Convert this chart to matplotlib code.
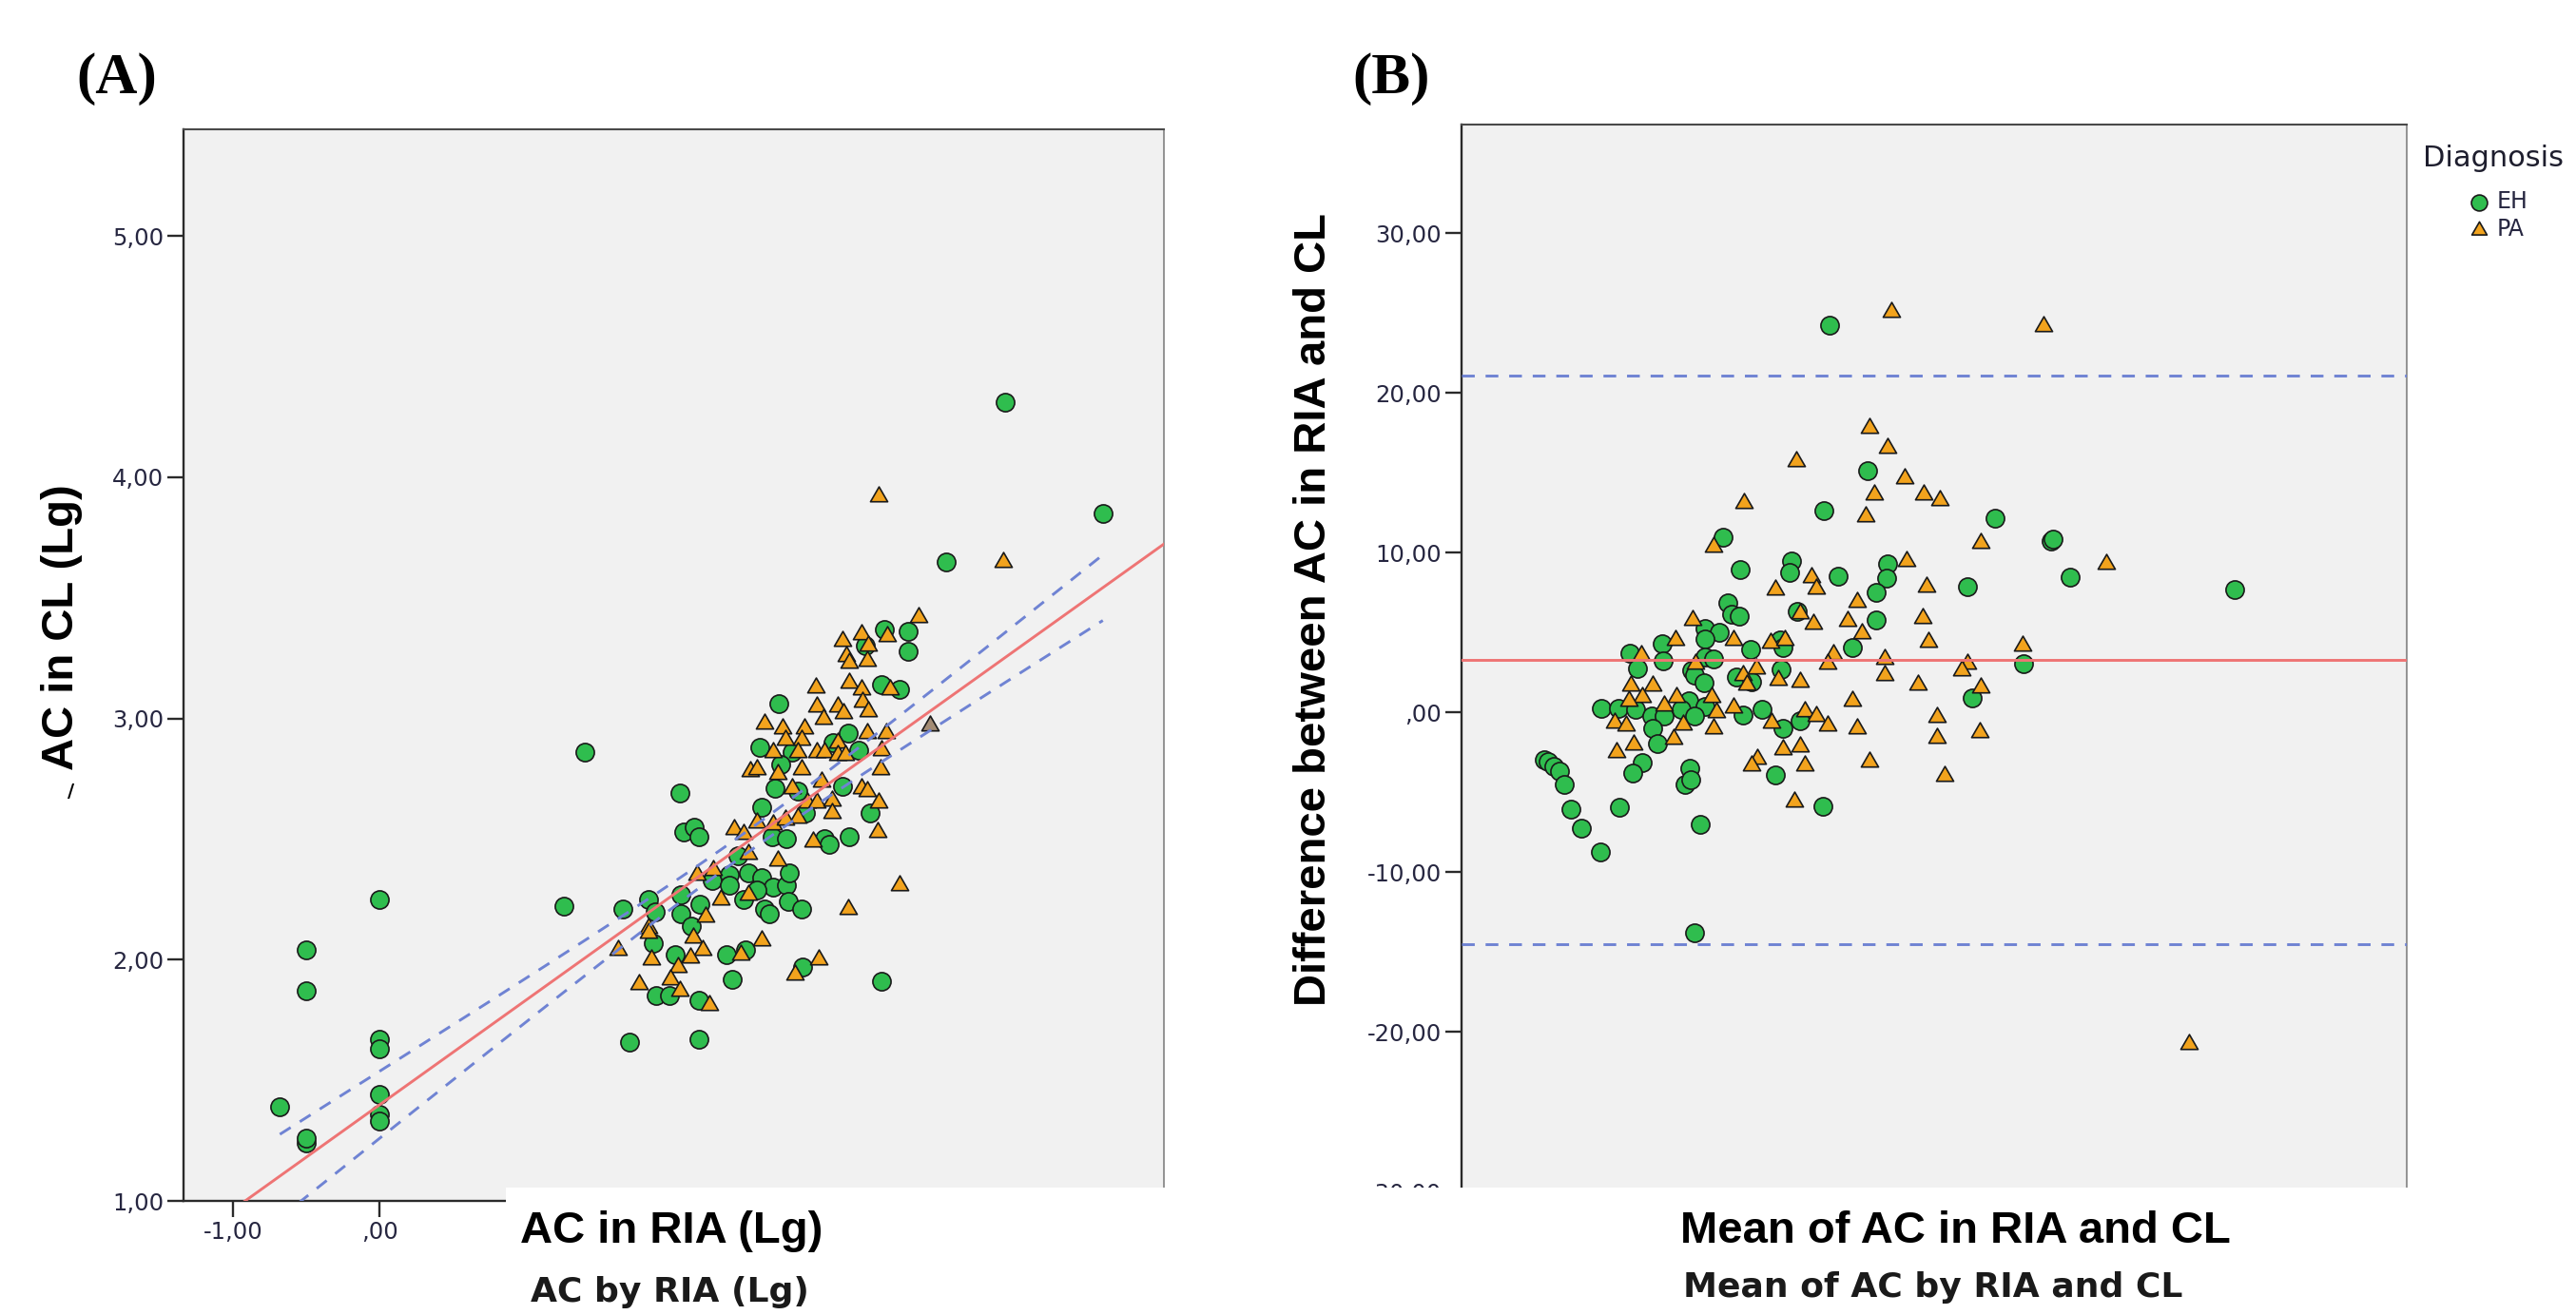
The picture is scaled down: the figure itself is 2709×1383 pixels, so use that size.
import numpy as np
import matplotlib
matplotlib.use("Agg")
import matplotlib.pyplot as plt
from matplotlib.path import Path
from matplotlib.patches import Rectangle

# ---------------- data: panel A (log scale regression) ----------------
a_eh_x = [-0.68, -0.50, -0.50, -0.50, -0.50, 0.00, 0.00, 0.00, 0.00, 0.00, 0.00,
          1.40, 1.26, 4.27, 4.94, 3.87,
          3.45, 3.61, 3.61, 3.32, 3.43, 3.55, 2.73, 3.20, 3.10, 2.60, 2.82, 2.74, 3.27,
          2.05, 2.70, 2.86, 3.16, 2.61, 2.91, 3.35, 2.08, 2.15, 2.18, 2.68, 2.78, 3.04,
          3.07, 3.21,
          1.66, 1.84, 1.88, 2.06, 2.06, 2.19, 2.13, 1.87, 2.02, 2.27, 2.39, 2.39, 2.52,
          2.61, 2.69, 2.78, 2.80, 2.49, 2.58, 2.63, 2.66, 2.79, 2.88, 2.45, 2.37, 2.50,
          2.41, 2.89, 3.43, 1.89, 1.98, 2.18, 1.71, 2.18]
a_eh_y = [1.39, 1.24, 1.26, 2.04, 1.87, 2.25, 1.67, 1.63, 1.44, 1.36, 1.33,
          2.86, 2.22, 4.31, 3.85, 3.65,
          3.37, 3.36, 3.28, 3.30, 3.14, 3.12, 3.06, 2.94, 2.90, 2.88, 2.86, 2.81, 2.87,
          2.69, 2.71, 2.70, 2.72, 2.63, 2.61, 2.61, 2.53, 2.55, 2.51, 2.51, 2.50, 2.50,
          2.48, 2.51,
          2.21, 2.25, 2.20, 2.27, 2.19, 2.23, 2.14, 2.07, 2.02, 2.33, 2.35, 2.31, 2.36,
          2.34, 2.30, 2.31, 2.36, 2.25, 2.29, 2.21, 2.19, 2.24, 2.21, 2.43, 2.02, 2.04,
          1.92, 1.97, 1.91, 1.85, 1.85, 1.83, 1.66, 1.67]

a_pa_x = [3.41, 4.26,
          3.68, 3.16, 3.29, 3.34, 3.19, 3.21, 3.33, 3.47, 2.98, 3.21, 3.29, 3.49, 2.99,
          3.13, 3.17, 3.30, 3.34, 3.03, 2.63, 2.75, 2.90, 2.77, 2.88, 2.69, 2.86, 2.99,
          3.04, 3.13, 3.13, 3.18, 3.33, 3.46, 3.43, 3.42, 2.53, 2.58, 2.72, 2.88, 3.02,
          3.29, 3.33, 2.82, 2.92, 2.99, 3.09, 3.09, 3.41, 2.86, 2.58, 2.42, 2.49, 2.69,
          2.77, 3.40, 2.96,
          2.17, 2.28, 2.52, 2.72, 2.33, 2.52, 2.23, 1.84, 1.84, 1.63, 1.86, 2.14, 2.21,
          2.12, 2.04, 1.99, 1.77, 2.05, 2.25, 2.47, 2.61, 2.84, 3.00, 3.20, 3.55]
a_pa_y = [3.92, 3.65,
          3.42, 3.32, 3.35, 3.30, 3.26, 3.23, 3.24, 3.34, 3.13, 3.15, 3.12, 3.12, 3.05,
          3.05, 3.02, 3.07, 3.03, 3.00, 2.98, 2.96, 2.96, 2.91, 2.91, 2.86, 2.86, 2.86,
          2.86, 2.90, 2.85, 2.85, 2.94, 2.94, 2.87, 2.79, 2.78, 2.79, 2.77, 2.79, 2.74,
          2.71, 2.70, 2.71, 2.65, 2.65, 2.66, 2.61, 2.65, 2.59, 2.57, 2.54, 2.52, 2.56,
          2.58, 2.53, 2.49,
          2.35, 2.37, 2.44, 2.41, 2.25, 2.27, 2.18, 2.13, 2.11, 2.04, 2.00, 2.09, 2.04,
          2.01, 1.97, 1.92, 1.90, 1.87, 1.81, 2.02, 2.08, 1.94, 2.00, 2.21, 2.31]

a_other_x = [3.76]
a_other_y = [2.97]

# fitted regression line and its 95% confidence band
a_fit_intercept = 1.398
a_fit_slope = 0.434
a_ci_center = 2.5
a_ci_min = 0.045
a_ci_slope = 0.0526

a_xticks = [-1, 0, 1, 2, 3, 4, 5]
a_xtick_visible = [-1, 0]          # the rest is hidden under the pasted label
a_yticks = [1, 2, 3, 4, 5]

# ---------------- data: panel B (Bland-Altman) ----------------
b_eh_x = [19.45, 40.9, 12.3, 27.0, 28.23, 31.17, 31.3, 22.54, 22.49, 32.18, 26.78,
          21.95, 21.95, 29.74,
          21.48, 19.18, 13.82, 14.74, 17.45, 17.34, 19.93, 20.69, 14.1, 14.27, 14.7,
          17.76, 12.89, 13.65, 12.89, 10.63, 16.84, 17.0, 15.28, 8.9, 10.68, 12.89,
          13.31, 9.29, 12.19, 16.92, 14.54, 15.32, 12.31, 12.81, 12.02, 12.89, 14.9,
          15.91, 7.39, 8.28, 9.2, 10.04, 10.71, 11.63, 12.31, 10.13, 17.0, 17.92,
          10.38, 9.54, 16.58, 9.04, 12.06,
          4.4, 4.6, 4.9, 5.2, 5.43,
          11.8, 12.1, 5.77, 6.32, 7.33, 8.33, 12.64, 19.1]
b_eh_y = [24.26, 7.71, -13.8, 0.94, 12.17, 10.72, 10.85, 9.33, 8.40, 8.50, 7.90,
          7.51, 5.82, 3.05,
          15.15, 12.63, 10.98, 8.94, 9.49, 8.74, 8.54, 4.04, 6.88, 6.12, 6.02,
          6.32, 5.23, 5.03, 4.63, 4.30, 4.57, 4.04, 3.94, 3.70, 3.24, 3.50,
          3.35, 2.75, 2.65, 2.71, 2.25, 1.92, 2.35, 1.86, 0.76, 0.37, -0.13,
          0.17, 0.27, 0.27, 0.17, -0.23, -0.23, 0.17, -0.23, -1.02, -1.02, -0.52,
          -1.92, -3.11, -3.9, -3.8, -3.5,
          -2.95, -3.1, -3.4, -3.7, -4.49,
          -4.49, -4.2, -6.08, -7.27, -8.72, -5.94, -7.01, -5.88]

b_pa_x = [22.72, 30.8, 38.46, 25.15, 25.15, 25.55, 27.4, 27.48,
          22.54, 23.43, 24.43, 25.30, 27.48, 23.54, 34.1, 24.6, 24.38, 24.71, 29.66,
          22.37, 22.37, 26.78, 26.47, 24.13, 21.58,
          17.72, 21.82, 21.36, 14.94, 13.31, 18.51, 18.76, 16.62, 20.94, 20.44, 21.19,
          19.68, 19.35, 20.69, 20.94, 21.6, 12.22, 17.9, 18.63, 11.30, 14.40, 16.33,
          17.12, 9.51, 12.39, 15.58, 16.75, 17.89, 14.9, 15.07, 8.95, 10.13, 9.54,
          11.38, 13.23, 10.71, 8.87, 13.48, 14.37, 8.11, 8.70, 11.72, 13.31, 16.41,
          18.17, 18.76, 19.35, 11.22, 9.12, 8.2, 17.0, 17.92, 15.66, 15.32, 18.17,
          17.62]
b_pa_y = [25.09, 24.18, -20.74, -0.27, -1.58, -3.94, -1.26, 1.56,
          16.54, 14.65, 13.62, 13.30, 10.64, 9.49, 9.30, 7.90, 5.92, 4.43, 4.20,
          3.35, 2.35, 3.05, 2.65, 1.76, 17.84,
          15.74, 13.66, 12.27, 13.11, 10.39, 8.50, 7.75, 7.67, 6.92, 5.76, 4.97,
          3.64, 3.05, 0.76, -1.02, -3.05, 5.82, 6.2, 5.53, 4.54, 4.54, 4.38,
          4.54, 3.58, 3.05, 2.75, 2.05, 1.92, 2.35, 1.76, 1.66, 1.71, 0.96,
          0.96, 0.96, 0.46, 0.76, 0.01, 0.33, -0.62, -0.82, -0.73, -1.02, -0.62,
          0.07, -0.23, -0.82, -1.62, -2.01, -2.51, -2.31, -2.11, -2.91, -3.30, -3.30,
          -5.58]

b_mean_diff = 3.29
b_loa_upper = 21.06
b_loa_lower = -14.49
b_yticks = [-30, -20, -10, 0, 10, 20, 30]

legend_title = "Diagnosis"
group_labels = ["EH", "PA"]

# ---------------- style ----------------
W, H = 2709, 1383
GREEN = "#2fbd4e"
ORANGE = "#f2a31d"
GREYTRI = "#a38c74"
EDGE = "#1a1a1a"
RED = "#ee7474"
BLUE = "#6f83d3"
BG = "#f1f1f1"
TICKCOL = "#262640"

tri = Path([(0, 0.577), (-0.5, -0.289), (0.5, -0.289), (0, 0.577)],
           [Path.MOVETO, Path.LINETO, Path.LINETO, Path.CLOSEPOLY])
S_CIRC = 190
S_TRI = 225
LW_LINE = 2.1
DASH = (4.6, 3.9)


def spss(v):
    s = f"{abs(v):.2f}".replace(".", ",")
    if s.startswith("0"):
        s = s[1:]
    return ("-" if v < 0 else "") + s


def fx(px):
    return px / W


def fy(py):
    return 1 - py / H


def style_axes(ax):
    ax.set_facecolor(BG)
    for side in ("left", "bottom"):
        ax.spines[side].set_color("#2a2a2a")
        ax.spines[side].set_linewidth(1.7)
    ax.spines["top"].set_color("#4a4a4a")
    ax.spines["top"].set_linewidth(1.5)
    ax.spines["right"].set_color("#8a8a8a")
    ax.spines["right"].set_linewidth(1.3)
    ax.tick_params(direction="out", length=12, width=1.7, color="#2a2a2a",
                   labelsize=17.5, labelcolor=TICKCOL, pad=3)
    for lab in ax.get_xticklabels() + ax.get_yticklabels():
        lab.set_family("DejaVu Sans")


fig = plt.figure(figsize=(W / 100, H / 100), dpi=100)
fig.patch.set_facecolor("white")

# ---------------- panel A ----------------
axA = fig.add_axes([fx(193), fy(1263), (1224 - 193) / W, (1263 - 136) / H])
axA.set_xlim(-1.338, 5.357)
axA.set_ylim(1.0, 5.442)
axA.scatter(a_eh_x, a_eh_y, s=S_CIRC, marker="o", facecolor=GREEN,
            edgecolor=EDGE, linewidth=1.2, zorder=2)
axA.scatter(a_pa_x, a_pa_y, s=S_TRI, marker=tri, facecolor=ORANGE,
            edgecolor=EDGE, linewidth=1.2, zorder=2)
axA.scatter(a_other_x, a_other_y, s=S_TRI, marker=tri, facecolor=GREYTRI,
            edgecolor=EDGE, linewidth=1.2, zorder=2)

xl = np.linspace(*axA.get_xlim(), 50)
axA.plot(xl, a_fit_intercept + a_fit_slope * xl, color=RED, lw=LW_LINE,
         zorder=4)
all_ax = np.array(a_eh_x + a_pa_x + a_other_x)
xc = np.linspace(all_ax.min(), all_ax.max(), 200)
fit_c = a_fit_intercept + a_fit_slope * xc
half = np.sqrt(a_ci_min ** 2 + (a_ci_slope * (xc - a_ci_center)) ** 2)
for sgn in (1, -1):
    axA.plot(xc, fit_c + sgn * half, color=BLUE, lw=LW_LINE, dashes=DASH,
             zorder=4)
axA.set_xticks(a_xticks)
axA.set_xticklabels([spss(v) if v in a_xtick_visible else "" for v in a_xticks])
axA.set_yticks(a_yticks)
axA.set_yticklabels([spss(v) for v in a_yticks])
style_axes(axA)

# ---------------- panel B ----------------
axB = fig.add_axes([fx(1537), fy(1287), (2531 - 1537) / W, (1287 - 131) / H])
axB.set_xlim(0, 50)
axB.set_ylim(-32.0, 36.8)
sc_eh = axB.scatter(b_eh_x, b_eh_y, s=S_CIRC, marker="o", facecolor=GREEN,
                    edgecolor=EDGE, linewidth=1.2, zorder=2)
sc_pa = axB.scatter(b_pa_x, b_pa_y, s=S_TRI, marker=tri, facecolor=ORANGE,
                    edgecolor=EDGE, linewidth=1.2, zorder=2)
axB.axhline(b_mean_diff, color=RED, lw=LW_LINE, zorder=4)
for v in (b_loa_upper, b_loa_lower):
    axB.axhline(v, color=BLUE, lw=LW_LINE, dashes=DASH, zorder=4)
axB.set_yticks(b_yticks)
axB.set_yticklabels([spss(v) for v in b_yticks])
axB.set_xticks([])
style_axes(axB)

# legend: title placed as text, entries through the legend machinery
fig.text(fx(2548), fy(175), legend_title, ha="left", va="baseline",
         family="DejaVu Sans", fontsize=22, color="#1e1e2e")
leg = fig.legend([sc_eh, sc_pa], group_labels,
                 loc="upper left", bbox_to_anchor=(fx(2596), fy(200)),
                 frameon=False, borderpad=0, borderaxespad=0,
                 fontsize=17, markerscale=0.88,
                 handlelength=0.9, handletextpad=0.35, labelspacing=0.2)
for t in leg.get_texts():
    t.set_color(TICKCOL)

# ---------------- cover box and pasted labels ----------------
fig.add_artist(Rectangle((fx(532), 0), 1, fy(1249), transform=fig.transFigure,
                         facecolor="white", edgecolor="none", zorder=5))

bold_big = dict(family="Liberation Sans", weight="bold", fontsize=34,
                color="black", zorder=6)
fig.text(fx(706), fy(1307), "AC in RIA (Lg)", ha="center", va="baseline",
         **bold_big)
fig.text(fx(2056), fy(1307), "Mean of AC in RIA and CL", ha="center",
         va="baseline", **bold_big)
fig.text(fx(65), fy(660), "AC in CL (Lg)", rotation=90, ha="center",
         va="center", **bold_big)
fig.text(fx(1382), fy(641), "Difference between AC in RIA and CL",
         rotation=90, ha="center", va="center", **bold_big)

spss_lab = dict(family="DejaVu Sans", weight="bold", fontsize=26,
                color="#1a1a1a", zorder=6)
fig.text(fx(704), fy(1369), "AC by RIA (Lg)", ha="center", va="baseline",
         **spss_lab)
fig.text(fx(2033), fy(1364), "Mean of AC by RIA and CL", ha="center",
         va="baseline", **spss_lab)

fig.text(fx(75), fy(832), "/", fontsize=14, weight="bold", ha="center",
         va="center", color="black", zorder=6)

panel = dict(family="Liberation Serif", weight="bold", fontsize=44,
             color="black", zorder=6)
fig.text(fx(123), fy(98), "(A)", ha="center", va="baseline", **panel)
fig.text(fx(1463), fy(98), "(B)", ha="center", va="baseline", **panel)

fig.savefig("out.png", dpi=100, facecolor="white")
